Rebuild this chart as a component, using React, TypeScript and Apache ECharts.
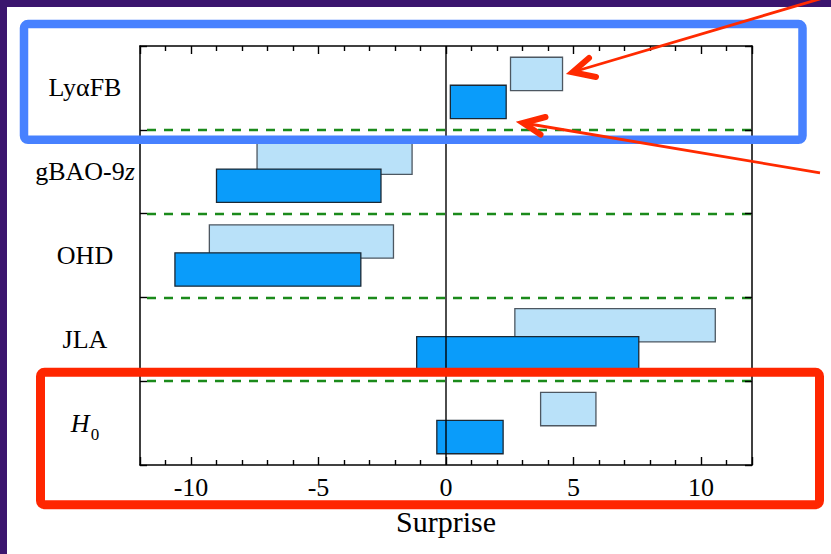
import React, { useEffect, useRef } from "react";
import * as echarts from "echarts";

// Rows of the comparison, top to bottom
const categories = ["LyαFB", "gBAO-9z", "OHD", "JLA", "H0"];

// Upper (light) bar of each row: surprise range
const lightLow = [2.53, -7.41, -9.28, 2.7, 3.71];
const lightHigh = [4.57, -1.33, -2.06, 10.56, 5.88];

// Lower (dark) bar of each row: surprise range
const darkLow = [0.17, -9.0, -10.63, -1.15, -0.36];
const darkHigh = [2.36, -2.55, -3.34, 7.56, 2.24];

const xMin = -12;
const xMax = 12;

const SERIF = "'Liberation Serif', 'Times New Roman', serif";

const rowLabel = (name: string) => {
  if (name === "gBAO-9z") return "gBAO-9{i|z}";
  if (name === "H0") return "{h|H}{sub|0}";
  return name;
};

const barRenderer = (offset: number, fill: string, stroke: string) =>
  (params: any, api: any) => {
    const cat = api.value(0);
    const lo = api.value(1);
    const hi = api.value(2);
    const a = api.coord([lo, cat]);
    const b = api.coord([hi, cat]);
    const band = api.size([0, 1])[1];
    const h = band * 0.397;
    const cy = a[1] + offset * band;
    return {
      type: "rect",
      shape: { x: a[0], y: cy - h / 2, width: b[0] - a[0], height: h },
      style: { fill, stroke, lineWidth: 1.3 },
    };
  };

export default function App() {
  const ref = useRef<HTMLDivElement>(null);

  useEffect(() => {
    if (!ref.current) return;
    const chart = echarts.init(ref.current, undefined, { renderer: "svg" });

    const lightData = categories.map((_, i) => [i, lightLow[i], lightHigh[i]]);
    const darkData = categories.map((_, i) => [i, darkLow[i], darkHigh[i]]);

    const tickStyle = { color: "#000", width: 1.4 };
    const frameLine = { show: true, onZero: false, lineStyle: { color: "#000", width: 1.5 } };

    chart.setOption({
      animation: false,
      backgroundColor: "#3b156e",
      grid: { left: 140, right: 79, top: 46, bottom: 89, containLabel: false },
      xAxis: [
        {
          type: "value",
          position: "bottom",
          min: xMin,
          max: xMax,
          splitNumber: 5,
          axisLine: frameLine,
          axisTick: { show: true, inside: true, length: 8, lineStyle: tickStyle },
          minorTick: { show: true, splitNumber: 5, length: 5, lineStyle: tickStyle },
          splitLine: { show: false },
          axisLabel: {
            show: true,
            showMinLabel: false,
            showMaxLabel: false,
            margin: 9,
            color: "#000",
            fontSize: 26,
            fontFamily: SERIF,
          },
          name: "Surprise",
          nameLocation: "middle",
          nameGap: 41,
          nameTextStyle: { color: "#000", fontSize: 30, fontFamily: SERIF },
        },
        {
          type: "value",
          position: "top",
          min: xMin,
          max: xMax,
          splitNumber: 5,
          axisLine: frameLine,
          axisTick: { show: true, inside: true, length: 8, lineStyle: tickStyle },
          minorTick: { show: true, splitNumber: 5, length: 5, lineStyle: tickStyle },
          splitLine: { show: false },
          axisLabel: { show: false },
        },
      ],
      yAxis: [
        {
          type: "category",
          data: categories,
          inverse: true,
          position: "left",
          axisLine: frameLine,
          axisTick: { show: true, inside: true, length: 7, lineStyle: tickStyle },
          splitLine: {
            show: true,
            showMinLine: false,
            showMaxLine: false,
            lineStyle: { color: "#1b8a1b", width: 2.3, type: [9, 8], dashOffset: -7 },
          },
          axisLabel: {
            margin: 55,
            align: "center",
            color: "#000",
            fontSize: 26,
            fontFamily: SERIF,
            formatter: rowLabel,
            rich: {
              i: { fontSize: 26, fontFamily: SERIF, fontStyle: "italic", color: "#000" },
              h: {
                fontSize: 26,
                fontFamily: SERIF,
                fontStyle: "italic",
                color: "#000",
                lineHeight: 40,
              },
              sub: {
                fontSize: 17,
                fontFamily: SERIF,
                color: "#000",
                lineHeight: 17,
                verticalAlign: "bottom",
                padding: [0, 0, 0, 1],
              },
            },
          },
        },
        {
          type: "category",
          data: categories,
          inverse: true,
          position: "right",
          axisLine: frameLine,
          axisTick: { show: true, inside: true, length: 7, lineStyle: tickStyle },
          splitLine: { show: false },
          axisLabel: { show: false },
        },
      ],
      series: [
        {
          type: "custom",
          name: "light",
          xAxisIndex: 0,
          yAxisIndex: 0,
          z: 3,
          encode: { x: [1, 2], y: 0 },
          data: lightData,
          renderItem: barRenderer(-0.167, "#b9e1f9", "#4d5761"),
        },
        {
          type: "custom",
          name: "dark",
          xAxisIndex: 0,
          yAxisIndex: 0,
          z: 4,
          encode: { x: [1, 2], y: 0 },
          data: darkData,
          renderItem: barRenderer(0.167, "#0a9cfa", "#1b2834"),
        },
        {
          type: "custom",
          name: "zero",
          xAxisIndex: 0,
          yAxisIndex: 0,
          z: 5,
          encode: { x: 0 },
          data: [[0]],
          renderItem: (params: any, api: any) => {
            const cs = params.coordSys;
            const x = api.coord([api.value(0), 0])[0];
            return {
              type: "line",
              shape: { x1: x, y1: cs.y, x2: x, y2: cs.y + cs.height },
              style: { stroke: "#000", lineWidth: 1.4 },
            };
          },
        },
      ],
      graphic: [
        {
          type: "rect",
          z: -10,
          shape: { x: 7, y: 7, width: 824, height: 547 },
          style: { fill: "#ffffff" },
        },
        {
          type: "rect",
          z: 100,
          shape: { x: 24, y: 24, width: 778.5, height: 115.8, r: 4 },
          style: { fill: "none", stroke: "#4781ff", lineWidth: 8.5 },
        },
        {
          type: "rect",
          z: 100,
          shape: { x: 40.5, y: 372.2, width: 779, height: 132.5, r: 4 },
          style: { fill: "none", stroke: "#ff2600", lineWidth: 9 },
        },
        {
          type: "line",
          z: 110,
          shape: { x1: 823, y1: -2, x2: 573, y2: 72 },
          style: { stroke: "#ff2a00", lineWidth: 2.8 },
        },
        {
          type: "polyline",
          z: 110,
          shape: { points: [[589, 58], [572.5, 72.2], [596, 77]] },
          style: { fill: "none", stroke: "#ff2a00", lineWidth: 6, lineCap: "round", lineJoin: "miter" },
        },
        {
          type: "line",
          z: 110,
          shape: { x1: 820, y1: 172.8, x2: 523.5, y2: 123 },
          style: { stroke: "#ff2a00", lineWidth: 2.8 },
        },
        {
          type: "polyline",
          z: 110,
          shape: { points: [[545.5, 117], [523, 123], [540.5, 134.5]] },
          style: { fill: "none", stroke: "#ff2a00", lineWidth: 6, lineCap: "round", lineJoin: "miter" },
        },
      ],
    });

    return () => chart.dispose();
  }, []);

  return (
    <div
      ref={ref}
      style={{ position: "fixed", left: 0, top: 0, width: 831, height: 554 }}
    />
  );
}
